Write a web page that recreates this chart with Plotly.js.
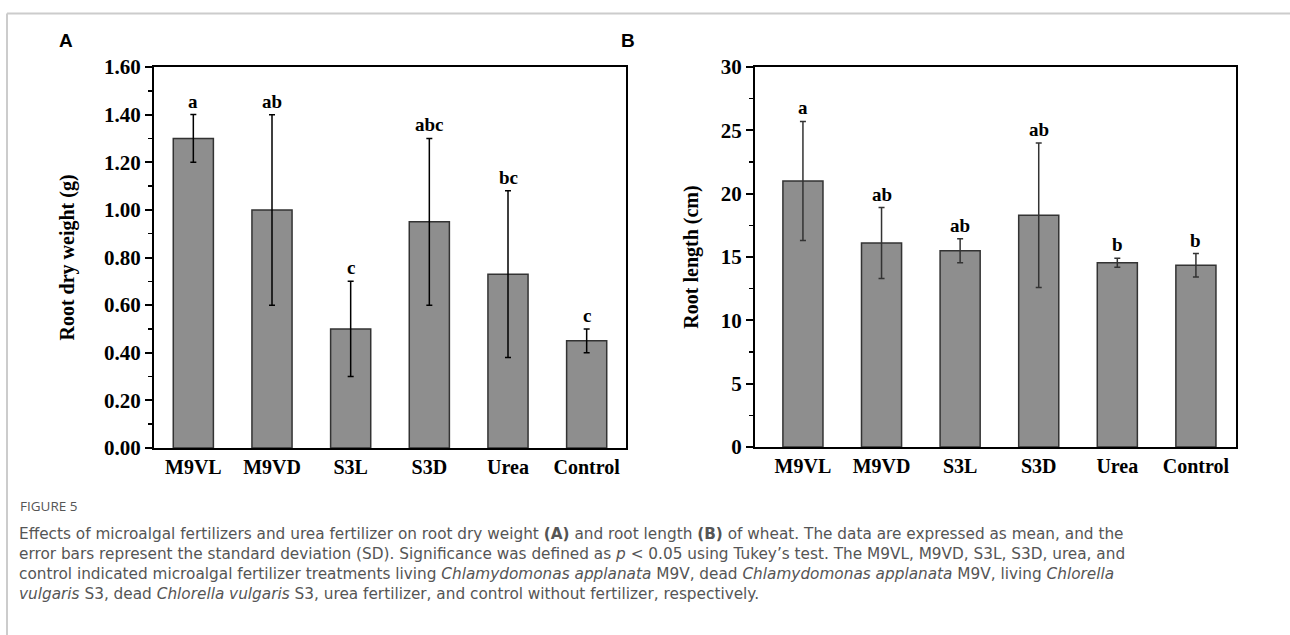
<!DOCTYPE html>
<html>
<head>
<meta charset="utf-8">
<script src="https://cdn.plot.ly/plotly-3.0.1.min.js"></script>
<style>
  html, body { margin: 0; padding: 0; background: #ffffff; }
  #chart { width: 1290px; height: 635px; }
</style>
</head>
<body>
<div id="chart"></div>
<script>
// ---- Data ----
const categories = ['M9VL', 'M9VD', 'S3L', 'S3D', 'Urea', 'Control'];

const dryWeight = [1.30, 1.00, 0.50, 0.95, 0.73, 0.45];
const dryWeightSD = [0.10, 0.40, 0.20, 0.35, 0.35, 0.05];
const dryWeightLetters = ['a', 'ab', 'c', 'abc', 'bc', 'c'];

const rootLength = [21.0, 16.1, 15.5, 18.3, 14.55, 14.35];
const rootLengthSD = [4.7, 2.8, 0.95, 5.7, 0.35, 0.92];
const rootLengthLetters = ['a', 'ab', 'ab', 'ab', 'b', 'b'];

const panelLabels = ['A', 'B'];
const yTitles = ['Root dry weight (g)', 'Root length (cm)'];

const captionHead = 'FIGURE 5';
const captionLines = [
  'Effects of microalgal fertilizers and urea fertilizer on root dry weight <b>(A)</b> and root length <b>(B)</b> of wheat. The data are expressed as mean, and the',
  'error bars represent the standard deviation (SD). Significance was defined as <i>p</i> &lt; 0.05 using Tukey\u2019s test. The M9VL, M9VD, S3L, S3D, urea, and',
  'control indicated microalgal fertilizer treatments living <i>Chlamydomonas applanata</i> M9V, dead <i>Chlamydomonas applanata</i> M9V, living <i>Chlorella</i>',
  '<i>vulgaris</i> S3, dead <i>Chlorella vulgaris</i> S3, urea fertilizer, and control without fertilizer, respectively.'
];

// ---- Layout helpers ----
const W = 1290, H = 635;
const px = v => v / W;
const py = v => 1 - v / H;

const serifFam = 'Liberation Serif, Times New Roman, serif';
const barColor = '#8e8e8e';
const barLine = '#333333';

const traces = [
  {
    type: 'bar', x: categories, y: dryWeight, xaxis: 'x', yaxis: 'y',
    width: 0.51,
    marker: { color: barColor, line: { color: barLine, width: 1.5 } },
    error_y: { type: 'data', array: dryWeightSD, visible: true, color: '#000', thickness: 1.5, width: 3 },
    hoverinfo: 'x+y', showlegend: false
  },
  {
    type: 'bar', x: categories, y: rootLength, xaxis: 'x2', yaxis: 'y2',
    width: 0.51,
    marker: { color: barColor, line: { color: barLine, width: 1.5 } },
    error_y: { type: 'data', array: rootLengthSD, visible: true, color: '#333', thickness: 1.5, width: 3 },
    hoverinfo: 'x+y', showlegend: false
  }
];

const annotations = [];
const letterFont = { family: serifFam, size: 19, color: '#000', weight: 'bold' };
categories.forEach((c, i) => {
  annotations.push({
    xref: 'x', yref: 'y', x: c, y: dryWeight[i] + dryWeightSD[i],
    text: dryWeightLetters[i], showarrow: false, yanchor: 'bottom', yshift: 1,
    font: letterFont
  });
  annotations.push({
    xref: 'x2', yref: 'y2', x: c, y: rootLength[i] + rootLengthSD[i],
    text: rootLengthLetters[i], showarrow: false, yanchor: 'bottom', yshift: 1,
    font: letterFont
  });
});

// panel letters
const panelFont = { family: 'Liberation Sans, Arial, sans-serif', size: 19, color: '#000', weight: 'bold' };
annotations.push({ xref: 'paper', yref: 'paper', x: px(66), y: py(40), text: panelLabels[0], showarrow: false,
  xanchor: 'center', yanchor: 'middle', font: panelFont });
annotations.push({ xref: 'paper', yref: 'paper', x: px(628), y: py(40), text: panelLabels[1], showarrow: false,
  xanchor: 'center', yanchor: 'middle', font: panelFont });

// caption
annotations.push({ xref: 'paper', yref: 'paper', x: px(18), y: py(506), text: captionHead, showarrow: false,
  xanchor: 'left', yanchor: 'middle', font: { family: 'Open Sans, Noto Sans, sans-serif', size: 13.5, color: '#555555' } });
annotations.push({ xref: 'paper', yref: 'paper', x: px(17), y: py(563.5), text: captionLines.join('<br>'), showarrow: false,
  xanchor: 'left', yanchor: 'middle', align: 'left',
  font: { family: 'DejaVu Sans, Open Sans, sans-serif', size: 15.3, color: '#555555' } });

const yAxisCommon = {
  showline: true, linecolor: '#000', linewidth: 2, mirror: true,
  ticks: 'outside', ticklen: 7, tickwidth: 2, tickcolor: '#000',
  showgrid: false, zeroline: false,
  tickfont: { family: serifFam, size: 21, color: '#000', weight: 'bold' },
  title: { font: { family: serifFam, size: 20, color: '#000', weight: 'bold' }, standoff: 24 }
};
const xAxisCommon = {
  showline: true, linecolor: '#000', linewidth: 2, mirror: true,
  ticks: '', showgrid: false, zeroline: false,
  tickfont: { family: serifFam, size: 20, color: '#000', weight: 'bold' },
  type: 'category'
};

const layout = {
  width: W, height: H,
  margin: { l: 0, r: 0, t: 0, b: 0 },
  paper_bgcolor: '#ffffff', plot_bgcolor: '#ffffff',
  showlegend: false,
  xaxis: { ...xAxisCommon, domain: [px(154), px(626)], range: [-0.5, 5.5], anchor: 'y' },
  yaxis: { ...yAxisCommon, domain: [1 - 448 / H, 1 - 67 / H], range: [0, 1.6], dtick: 0.2, tickformat: '.2f',
    minor: { ticks: 'outside', ticklen: 4, tickwidth: 1.5, tickcolor: '#000', dtick: 0.1 },
    title: { ...yAxisCommon.title, text: yTitles[0] }, anchor: 'x' },
  xaxis2: { ...xAxisCommon, domain: [px(755), px(1236)], range: [-0.61, 5.51], anchor: 'y2' },
  yaxis2: { ...yAxisCommon, domain: [1 - 447 / H, 1 - 67 / H], range: [0, 30], dtick: 5,
    minor: { ticks: 'outside', ticklen: 4, tickwidth: 1.5, tickcolor: '#000', dtick: 2.5 },
    title: { ...yAxisCommon.title, text: yTitles[1], standoff: 17 }, anchor: 'x2' },
  annotations: annotations,
  shapes: [
    { type: 'line', xref: 'paper', yref: 'paper', x0: px(7), x1: 1, y0: py(13.5), y1: py(13.5), line: { color: '#cccccc', width: 2 } },
    { type: 'line', xref: 'paper', yref: 'paper', x0: px(7), x1: px(7), y0: 0, y1: py(13.5), line: { color: '#cccccc', width: 2 } }
  ]
};

Plotly.newPlot('chart', traces, layout, { displayModeBar: false, staticPlot: true });
</script>
</body>
</html>
